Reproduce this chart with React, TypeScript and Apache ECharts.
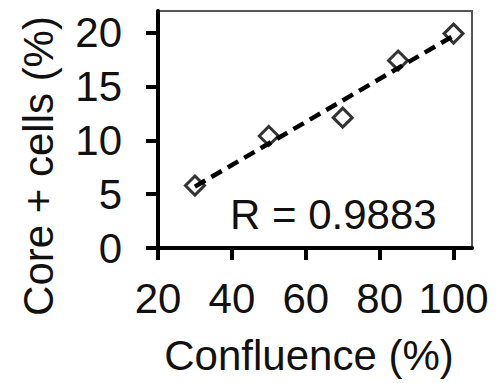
import React, { useEffect, useRef } from "react";
import * as echarts from "echarts";

const confluence = [30, 50, 70, 85, 100];
const corePlusCells = [5.8, 10.4, 12.1, 17.4, 19.9];
const fitLine = [
  [30, 5.7],
  [100, 19.7],
];
const xTicks = [20, 40, 60, 80, 100];
const yTicks = [0, 5, 10, 15, 20];
const rLabel = "R = 0.9883";
const xTitle = "Confluence (%)";
const yTitle = "Core + cells (%)";

const FONT = "'Liberation Sans', Arial, Helvetica, sans-serif";

export default function App() {
  const ref = useRef<HTMLDivElement>(null);
  useEffect(() => {
    if (!ref.current) return;
    const chart = echarts.init(ref.current, undefined, { renderer: "svg" });
    const points = confluence.map((x, i) => [x, corePlusCells[i]]);
    chart.setOption({
      animation: false,
      backgroundColor: "#ffffff",
      textStyle: { fontFamily: FONT },
      grid: {
        left: 158,
        right: 28,
        top: 11,
        bottom: 135,
        show: true,
        borderColor: "#555555",
        borderWidth: 2,
        backgroundColor: "transparent",
      },
      xAxis: {
        type: "value",
        min: 20,
        max: 105,
        axisLine: { show: true, lineStyle: { color: "#000", width: 4 } },
        axisTick: {
          show: true,
          length: 12,
          lineStyle: { color: "#000", width: 4 },
          customValues: xTicks,
        },
        axisLabel: {
          fontSize: 42,
          color: "#111",
          margin: 29,
          fontFamily: FONT,
          customValues: xTicks,
        },
        splitLine: { show: false },
      },
      yAxis: {
        type: "value",
        min: 0,
        max: 22,
        axisLine: { show: true, lineStyle: { color: "#000", width: 4 } },
        axisTick: {
          show: true,
          length: 12,
          lineStyle: { color: "#000", width: 4 },
          customValues: yTicks,
        },
        axisLabel: {
          fontSize: 42,
          color: "#111",
          margin: 36,
          fontFamily: FONT,
          customValues: yTicks,
        },
        splitLine: { show: false },
      },
      series: [
        {
          type: "scatter",
          data: points,
          symbol: "diamond",
          symbolSize: 19,
          z: 2,
          itemStyle: { color: "#fff", borderColor: "#000", borderWidth: 3 },
        },
        {
          type: "line",
          data: fitLine,
          showSymbol: false,
          symbol: "none",
          z: 3,
          lineStyle: { color: "#000", width: 4.5, type: [12, 7] },
        },
      ],
      graphic: [
        {
          type: "text",
          left: 230,
          top: 193,
          z: 10,
          style: {
            text: rLabel,
            fontSize: 42,
            fontFamily: FONT,
            fill: "#111",
          },
        },
        {
          type: "text",
          x: 309,
          y: 355,
          z: 10,
          style: {
            text: xTitle,
            fontSize: 42,
            fontFamily: FONT,
            fill: "#111",
            align: "center",
            verticalAlign: "middle",
          },
        },
        {
          type: "text",
          x: 38,
          y: 166,
          rotation: Math.PI / 2,
          z: 10,
          style: {
            text: yTitle,
            fontSize: 42,
            fontFamily: FONT,
            fill: "#111",
            align: "center",
            verticalAlign: "middle",
          },
        },
      ],
    });
    return () => chart.dispose();
  }, []);
  return (
    <div
      ref={ref}
      style={{ position: "absolute", left: 0, top: 0, width: 500, height: 383 }}
    />
  );
}
